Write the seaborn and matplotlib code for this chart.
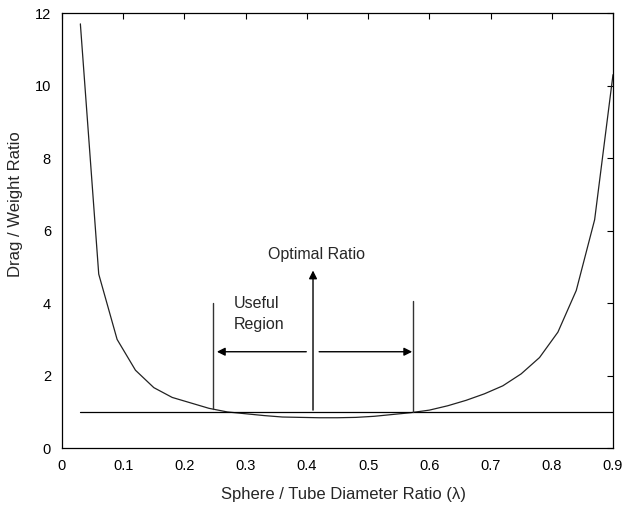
import matplotlib
matplotlib.use("Agg")
import matplotlib.pyplot as plt
import seaborn as sns
import pandas as pd

# Data
ratio = [0.03, 0.06, 0.09, 0.12, 0.15, 0.18, 0.21, 0.24, 0.27, 0.30,
         0.33, 0.36, 0.39, 0.42, 0.45, 0.48, 0.51, 0.54, 0.57, 0.60,
         0.63, 0.66, 0.69, 0.72, 0.75, 0.78, 0.81, 0.84, 0.87, 0.90]
drag_weight = [11.7, 4.8, 3.0, 2.15, 1.67, 1.40, 1.25, 1.10, 1.00, 0.95,
               0.90, 0.86, 0.85, 0.84, 0.84, 0.85, 0.88, 0.93, 0.98, 1.05,
               1.17, 1.32, 1.50, 1.72, 2.05, 2.50, 3.20, 4.35, 6.30, 10.3]
ref_x = [0.03, 0.90]
ref_y = [1.0, 1.0]
x_ticks = [0, 0.1, 0.2, 0.3, 0.4, 0.5, 0.6, 0.7, 0.8, 0.9]
x_tick_labels = ["0", "0.1", "0.2", "0.3", "0.4", "0.5", "0.6", "0.7", "0.8", "0.9"]
y_ticks = [0, 2, 4, 6, 8, 10, 12]
y_tick_labels = ["0", "2", "4", "6", "8", "10", "12"]

sns.set_style("white")
plt.rcParams['font.family'] = ['Liberation Sans', 'DejaVu Sans']

fig = plt.figure(figsize=(6.25, 5.08), dpi=100)
ax = fig.add_axes([0.0992, 0.1177, 0.8816, 0.8567])

df = pd.DataFrame({"ratio": ratio, "dw": drag_weight})
sns.lineplot(data=df, x="ratio", y="dw", ax=ax, color="#222222", lw=0.9)
sns.lineplot(x=ref_x, y=ref_y, ax=ax, color="black", lw=0.9)

# annotation lines
ax.plot([0.247, 0.247], [1.08, 4.0], color="#333333", lw=1.0)
ax.plot([0.574, 0.574], [1.0, 4.05], color="#333333", lw=1.0)
ax.annotate("", xy=(0.41, 4.9), xytext=(0.41, 1.05),
            arrowprops=dict(arrowstyle="-|>", color="black", lw=1.0,
                            mutation_scale=12, shrinkA=0, shrinkB=0))
ax.annotate("", xy=(0.253, 2.66), xytext=(0.399, 2.66),
            arrowprops=dict(arrowstyle="-|>", color="black", lw=1.0,
                            mutation_scale=12, shrinkA=0, shrinkB=0))
ax.annotate("", xy=(0.572, 2.66), xytext=(0.42, 2.66),
            arrowprops=dict(arrowstyle="-|>", color="black", lw=1.0,
                            mutation_scale=12, shrinkA=0, shrinkB=0))
ax.text(0.415, 5.35, "Optimal Ratio", ha="center", va="center", fontsize=11.5)
ax.text(0.281, 3.7, "Useful\nRegion", ha="left", va="center", fontsize=11.5,
        linespacing=1.45)

ax.set_xlim(0, 0.9)
ax.set_ylim(0, 12)
ax.set_xticks(x_ticks)
ax.set_xticklabels(x_tick_labels)
ax.set_yticks(y_ticks)
ax.set_yticklabels(y_tick_labels)
ax.tick_params(direction="in", length=4, width=0.8, top=True, right=True,
               labelsize=10.5, colors="black", pad=8)
for s in ax.spines.values():
    s.set_visible(True)
    s.set_color("black")
    s.set_linewidth(0.9)
ax.set_xlabel("Sphere / Tube Diameter Ratio (λ)", fontsize=12)
ax.set_ylabel("Drag / Weight Ratio", fontsize=12)
ax.yaxis.set_label_coords(-0.07, 0.56)
ax.xaxis.set_label_coords(0.51, -0.09)

fig.savefig("out.png", dpi=100, facecolor="white")
